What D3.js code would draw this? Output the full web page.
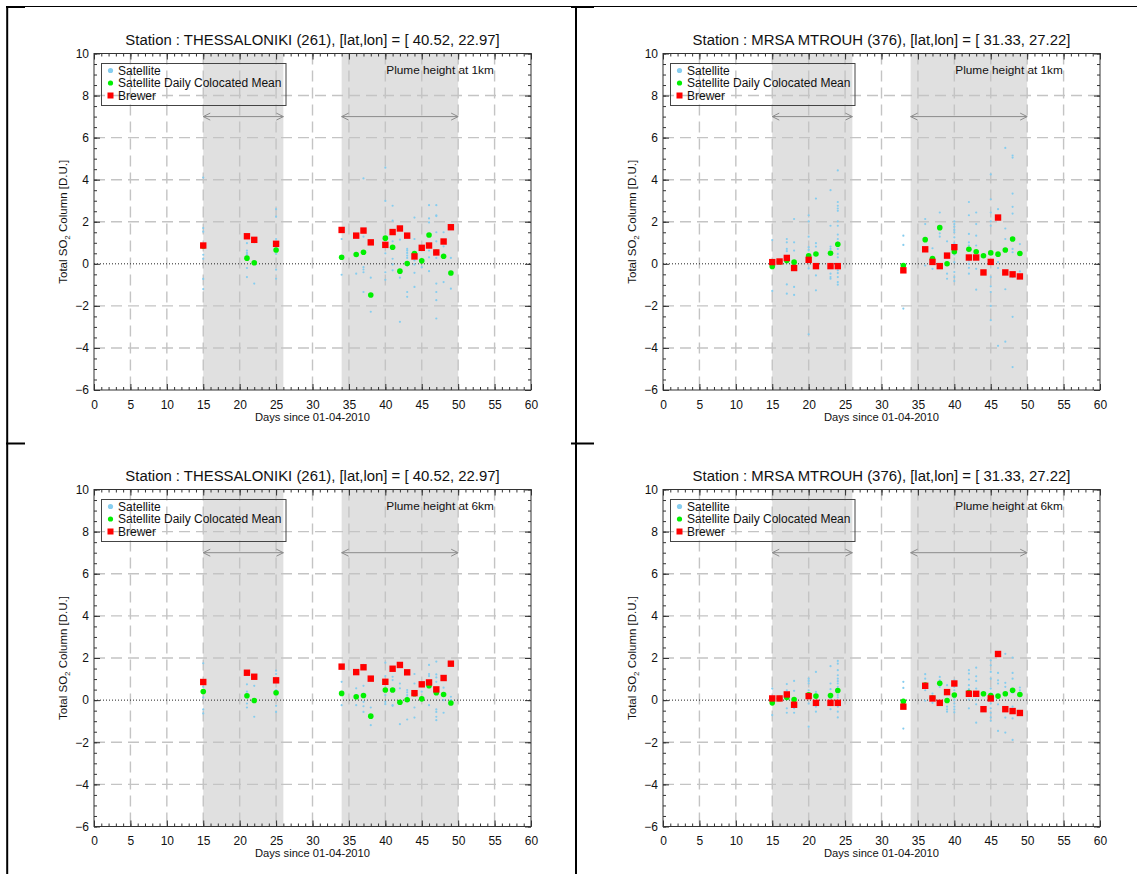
<!DOCTYPE html>
<html>
<head>
<meta charset="utf-8">
<script src="https://cdn.jsdelivr.net/npm/d3@7"></script>
<style>
  html, body { margin: 0; padding: 0; background: #fff; }
  svg { display: block; font-family: 'Liberation Sans', Arial, Helvetica, sans-serif; }
</style>
</head>
<body>
<svg id="fig" width="1137" height="874"></svg>
<script>
// ---- axis definitions ----
const dayTicks = d3.range(0, 61, 5);
const dayMinorTicks = d3.range(0, 61, 1);
const so2Ticks = d3.range(-6, 11, 2);
const so2MinorTicks = d3.range(-6, 10.01, 0.5);
const plumeSpans = [[15, 26], [34, 50]];
const arrowLevel = 7;
const legendLabels = ["Satellite", "Satellite Daily Colocated Mean", "Brewer"];

const titleThess = "Station : THESSALONIKI (261), [lat,lon] = [ 40.52, 22.97]";
const titleMtrouh = "Station : MRSA MTROUH (376), [lat,lon] = [ 31.33, 27.22]";
const plume1km = "Plume height at 1km";
const plume6km = "Plume height at 6km";
const xAxisTitle = "Days since 01-04-2010";

// ---- Thessaloniki, plume at 1 km ----
const thess1Brewer = [[15,0.87],[21,1.31],[22,1.14],[25,0.95],[34,1.61],[36,1.34],[37,1.58],[38,1.02],[40,0.90],[41,1.51],[42,1.68],[43,1.34],[44,0.35],[45,0.76],[46,0.87],[47,0.54],[48,1.06],[49,1.74]];
const thess1Mean = [[15,0.85],[21,0.27],[22,0.05],[25,0.66],[34,0.31],[36,0.44],[37,0.55],[38,-1.48],[40,1.22],[41,0.79],[42,-0.35],[43,0.01],[44,0.49],[45,0.14],[46,1.37],[47,0.55],[48,0.36],[49,-0.44]];
const thess1Sat = [
  [15,[4.1,1.70,1.53,0.43,0.24,-0.72,-1.2]],
  [21,[0.98,0.63,0.52,0.43,-0.2,-0.63]],
  [22,[1.02,-0.94]],
  [25,[2.6,2.24,1.18,1.05,0.47,-0.28,-0.71]],
  [34,[1.18,-0.52]],
  [36,[-0.47]],
  [37,[4.06,1.29,-0.16,-0.27,-0.4,-1.34]],
  [38,[-0.66,-2.28]],
  [40,[4.57,2.99,0.5,-0.4,-0.76]],
  [41,[2.76,2.05,1.07,0.24,-0.03,-0.31]],
  [42,[1.15,-0.66,-2.76]],
  [43,[0.71,0.63,0.52,0.39,0.28,-1.34,-1.57]],
  [44,[2.2,1.18,0.16,-0.03,-0.43,-1.1]],
  [45,[-0.16]],
  [46,[2.79,2.16,1.97,0.63,0.31,-0.35]],
  [47,[2.79,2.31,2.27,1.5,1.07,0.28,-0.94,-1.34,-1.73,-2.6]],
  [48,[1.5,0.83,-0.87]],
  [49,[0.28,-1.18]]
];

// ---- Mrsa Mtrouh, plume at 1 km ----
const mtrouh1Brewer = [[15,0.08],[16,0.11],[17,0.28],[18,-0.2],[20,0.19],[21,-0.11],[23,-0.11],[24,-0.11],[33,-0.31],[36,0.69],[37,0.09],[38,-0.11],[39,0.39],[40,0.79],[42,0.30],[43,0.30],[44,-0.41],[45,0.09],[46,2.2],[47,-0.41],[48,-0.5],[49,-0.6]];
const mtrouh1Mean = [[15,-0.13],[16,0.1],[17,0.16],[18,0.08],[20,0.38],[21,0.47],[23,0.5],[24,0.93],[33,-0.08],[36,1.15],[37,0.25],[38,1.72],[39,0.0],[40,0.57],[42,0.69],[43,0.57],[44,0.38],[45,0.52],[46,0.46],[47,0.66],[48,1.18],[49,0.49]];
const mtrouh1Sat = [
  [15,[1.13,-1.29]],
  [17,[1.18,1.02,0.71,0.6,-0.98,-1.42]],
  [18,[2.13,1.02,0.63,-1.1,-1.48]],
  [20,[2.31,2.02,1.29,0.79,0.66,0.08,-0.22,-3.35]],
  [21,[3.1,0.98,0.82,-0.55,-1.26]],
  [23,[3.5,1.81,0.82,0.71,-0.47,-0.63,-0.71]],
  [24,[4.44,2.94,2.76,2.63,2.52,2.02,1.81,1.39,1.18,1.02,0.87,0.71,0.47,0.31,-0.16,-0.31,-0.44,-0.63,-0.87,-0.99]],
  [33,[1.34,0.9,-2.13]],
  [36,[2.13,1.89,-0.08]],
  [37,[0.74,-0.24]],
  [38,[2.44,1.45,1.29]],
  [39,[1.07,-0.47,-0.71]],
  [40,[2.02,1.89,1.76,1.61,1.5,1.26,0.98,0.44,0.08,-0.39,-0.63,-0.82]],
  [42,[2.94,2.31,1.42,1.02,0.87,0.16,0.0,-0.19,-0.47]],
  [43,[2.44,1.89,1.34,0.87,-0.24,-1.23]],
  [45,[4.25,3.07,2.44,2.02,1.81,0.0,-0.63,-1.07,-1.34,-2.0,-2.68]],
  [46,[2.6,0.08,-0.2,-3.9]],
  [47,[5.51,1.68,1.18,-1.21,-3.7]],
  [48,[5.15,5.05,3.34,2.71,2.39,0.71,0.55,-0.63,-2.52,-4.91]],
  [49,[0.94,-0.36]]
];

// ---- Thessaloniki, plume at 6 km ----
const thess6Brewer = [[15,0.86],[21,1.30],[22,1.11],[25,0.94],[34,1.59],[36,1.33],[37,1.56],[38,1.02],[40,0.87],[41,1.49],[42,1.67],[43,1.32],[44,0.33],[45,0.75],[46,0.84],[47,0.51],[48,1.05],[49,1.73]];
const thess6Mean = [[15,0.41],[21,0.21],[22,-0.02],[25,0.35],[34,0.32],[36,0.16],[37,0.22],[38,-0.76],[40,0.48],[41,0.48],[42,-0.1],[43,0.02],[44,0.3],[45,0.06],[46,0.68],[47,0.35],[48,0.27],[49,-0.14]];
const thess6Sat = [
  [15,[1.75,0.63,0.13,-0.44,-0.63]],
  [21,[0.75,0.4,-0.16,-0.35]],
  [22,[0.68,-0.79]],
  [25,[1.4,1.24,0.48,-0.27,-0.56]],
  [34,[0.87,-0.24]],
  [36,[0.56,-0.24]],
  [37,[1.67,0.68,-0.08,-0.29,-0.56]],
  [38,[-0.35,-1.19]],
  [40,[1.78,1.14,0.24,-0.08,-0.19]],
  [41,[1.11,0.95,-0.24,-0.27]],
  [42,[0.79,0.56,-1.14]],
  [43,[0.48,0.37,0.24,0.13,-0.92]],
  [44,[1.24,0.79,-0.35,-0.83]],
  [45,[0.4]],
  [46,[1.67,1.24,1.14,-0.24]],
  [47,[1.83,1.22,1.08,0.87,0.51,-0.44,-0.56,-0.79,-0.95]],
  [48,[0.59,0.0,-0.6]],
  [49,[0.16,0.0]]
];

// ---- Mrsa Mtrouh, plume at 6 km ----
const mtrouh6Brewer = [[15,0.08],[16,0.08],[17,0.27],[18,-0.22],[20,0.19],[21,-0.13],[23,-0.13],[24,-0.13],[33,-0.31],[36,0.68],[37,0.08],[38,-0.13],[39,0.38],[40,0.79],[42,0.3],[43,0.3],[44,-0.43],[45,0.08],[46,2.19],[47,-0.43],[48,-0.52],[49,-0.61]];
const mtrouh6Mean = [[15,-0.13],[16,0.08],[17,0.13],[18,0.03],[20,0.25],[21,0.19],[23,0.22],[24,0.46],[33,-0.06],[36,0.72],[37,0.1],[38,0.8],[39,-0.02],[40,0.24],[42,0.36],[43,0.3],[44,0.3],[45,0.22],[46,0.19],[47,0.3],[48,0.47],[49,0.27]];
const mtrouh6Sat = [
  [15,[0.55,-0.71]],
  [17,[0.76,0.47,-0.39,-0.6]],
  [18,[0.91,0.44,-0.39,-0.6]],
  [20,[1.02,0.91,0.79,0.47,-0.16,-1.26]],
  [21,[1.34,0.39,-0.31,-0.55]],
  [23,[1.61,0.79,0.52,0.08,-0.24,-0.43]],
  [24,[1.86,1.73,1.42,1.18,1.02,0.9,0.79,0.63,0.24,0.13,-0.31,-0.55,-0.82]],
  [33,[0.87,0.58,-1.35]],
  [36,[1.23,1.02,0.47,-0.03]],
  [37,[0.31,-0.13]],
  [38,[1.1,0.94,0.63]],
  [39,[0.71,-0.31,-0.44,-0.55]],
  [40,[0.94,0.63,0.47,0.13,0,-0.16,-0.31,-0.44,-0.58]],
  [42,[1.42,1.26,0.98,0.71,0.52,0.03,-0.39]],
  [43,[1.54,1.13,0.91,0.55,0.03,-0.2,-1.07]],
  [45,[1.89,1.65,1.34,1.02,0.55,0.31,-0.16,-0.39,-0.6,-0.82,-0.98]],
  [46,[1.29,0.94,0.79,-0.2,-1.46]],
  [47,[2.2,0.82,0.63,-0.83,-1.54]],
  [48,[2.02,1.29,1.02,0.35,-0.31,-0.87,-1.89]],
  [49,[0.6,0.47,0.19]]
];

// ---- styling ----
const colSat = "#86CDEF";
const colMean = "#00F000";
const colBrewer = "#FF0000";
const colShade = "#E0E0E0";
const colGrid = "#C4C4C4";
const colArrow = "#8C8C8C";
const fontFam = "'Liberation Sans', Arial, Helvetica, sans-serif";

const svg = d3.select("#fig");

// page frame lines (table cell borders)
const frame = svg.append("g").attr("stroke", "#000").attr("fill", "none");
frame.append("line").attr("x1", 6).attr("x2", 1137).attr("y1", 6.5).attr("y2", 6.5).attr("stroke-width", 1);
[[6, 25], [571, 594]].forEach(([a, b]) => {
  frame.append("line").attr("x1", a).attr("x2", b).attr("y1", 7).attr("y2", 7).attr("stroke-width", 2);
  frame.append("line").attr("x1", a).attr("x2", b).attr("y1", 443.5).attr("y2", 443.5).attr("stroke-width", 2);
});
[7.2, 576].forEach(xv => {
  frame.append("line").attr("x1", xv).attr("x2", xv).attr("y1", 6).attr("y2", 874).attr("stroke-width", 2);
});

function drawPanel(box, title, plumeText, sat, mean, brewer) {
  const x = d3.scaleLinear().domain([0, 60]).range([box.x0, box.x1]);
  const y = d3.scaleLinear().domain([-6, 10]).range([box.y1, box.y0]);
  const g = svg.append("g");

  // shaded plume periods
  g.append("g").selectAll("rect").data(plumeSpans).join("rect")
    .attr("x", d => x(d[0])).attr("width", d => x(d[1]) - x(d[0]))
    .attr("y", y(10)).attr("height", y(-6) - y(10))
    .attr("fill", colShade);

  // dashed grid
  const grid = g.append("g").attr("stroke", colGrid).attr("stroke-width", 1.4)
    .attr("stroke-dasharray", "11,6");
  grid.selectAll(".gx").data(dayTicks.filter(d => d > 0 && d < 60)).join("line")
    .attr("x1", d => x(d)).attr("x2", d => x(d)).attr("y1", y(10)).attr("y2", y(-6));
  grid.selectAll(".gy").data(so2Ticks.filter(d => d > -6 && d < 10 && d !== 0)).join("line")
    .attr("y1", d => y(d)).attr("y2", d => y(d)).attr("x1", x(0)).attr("x2", x(60));

  // zero reference
  g.append("line").attr("x1", x(0)).attr("x2", x(60)).attr("y1", y(0)).attr("y2", y(0))
    .attr("stroke", "#222").attr("stroke-width", 1).attr("stroke-dasharray", "1,2");

  // double-headed arrows over plume periods
  const arr = g.append("g").attr("stroke", colArrow).attr("stroke-width", 1).attr("fill", "none");
  plumeSpans.forEach(([a, b]) => {
    const xa = x(a), xb = x(b), ya = y(arrowLevel);
    arr.append("line").attr("x1", xa).attr("x2", xb).attr("y1", ya).attr("y2", ya);
    arr.append("path").attr("d", `M${xa + 7},${ya - 3.5}L${xa},${ya}L${xa + 7},${ya + 3.5}`);
    arr.append("path").attr("d", `M${xb - 7},${ya - 3.5}L${xb},${ya}L${xb - 7},${ya + 3.5}`);
  });

  // plume height note
  g.append("text").attr("x", x(54.9)).attr("y", y(10) + 20.5).attr("text-anchor", "end")
    .attr("font-size", 11.8).attr("fill", "#111").text(plumeText);

  // legend
  const lg = g.append("g");
  const lx = box.x0 + 7.5, ly = box.y0 + 10;
  lg.append("rect").attr("x", lx).attr("y", ly).attr("width", 184.5).attr("height", 42)
    .attr("fill", "none").attr("stroke", "#444").attr("stroke-width", 1);
  const rowY = [7, 19.5, 32].map(v => ly + v);
  lg.append("circle").attr("cx", box.x0 + 16.5).attr("cy", rowY[0]).attr("r", 2.6).attr("fill", colSat);
  lg.append("circle").attr("cx", box.x0 + 16.5).attr("cy", rowY[1]).attr("r", 2.6).attr("fill", colMean);
  lg.append("rect").attr("x", box.x0 + 13.5).attr("y", rowY[2] - 3).attr("width", 6).attr("height", 6).attr("fill", colBrewer);
  lg.selectAll("text").data(legendLabels).join("text")
    .attr("x", box.x0 + 24).attr("y", (d, i) => rowY[i] + 4.3)
    .attr("font-size", 12).attr("fill", "#111").text(d => d);

  // axes with inward ticks
  const styleAxis = sel => {
    sel.attr("font-family", fontFam).attr("font-size", 12).attr("color", "#333");
    sel.select(".domain").remove();
    sel.selectAll("text").attr("fill", "#111");
  };
  g.append("g").attr("transform", `translate(0,${y(-6)})`)
    .call(d3.axisBottom(x).tickValues(dayTicks).tickSizeInner(-6).tickSizeOuter(0).tickPadding(10).tickFormat(d3.format("d")))
    .call(styleAxis);
  g.append("g").attr("transform", `translate(0,${y(-6)})`)
    .call(d3.axisBottom(x).tickValues(dayMinorTicks).tickSizeInner(-3).tickSizeOuter(0).tickFormat(""))
    .call(styleAxis);
  g.append("g").attr("transform", `translate(0,${y(10)})`)
    .call(d3.axisTop(x).tickValues(dayTicks).tickSizeInner(-6).tickSizeOuter(0).tickFormat(""))
    .call(styleAxis);
  g.append("g").attr("transform", `translate(0,${y(10)})`)
    .call(d3.axisTop(x).tickValues(dayMinorTicks).tickSizeInner(-3).tickSizeOuter(0).tickFormat(""))
    .call(styleAxis);
  g.append("g").attr("transform", `translate(${x(0)},0)`)
    .call(d3.axisLeft(y).tickValues(so2Ticks).tickSizeInner(-6).tickSizeOuter(0).tickPadding(5).tickFormat(d => d < 0 ? "\u2212" + Math.abs(d) : d))
    .call(styleAxis);
  g.append("g").attr("transform", `translate(${x(0)},0)`)
    .call(d3.axisLeft(y).tickValues(so2MinorTicks).tickSizeInner(-3).tickSizeOuter(0).tickFormat(""))
    .call(styleAxis);
  g.append("g").attr("transform", `translate(${x(60)},0)`)
    .call(d3.axisRight(y).tickValues(so2Ticks).tickSizeInner(-6).tickSizeOuter(0).tickFormat(""))
    .call(styleAxis);
  g.append("g").attr("transform", `translate(${x(60)},0)`)
    .call(d3.axisRight(y).tickValues(so2MinorTicks).tickSizeInner(-3).tickSizeOuter(0).tickFormat(""))
    .call(styleAxis);

  // plot frame
  g.append("rect").attr("x", x(0)).attr("y", y(10)).attr("width", x(60) - x(0)).attr("height", y(-6) - y(10))
    .attr("fill", "none").attr("stroke", "#333").attr("stroke-width", 1);

  // titles
  g.append("text").attr("x", (x(0) + x(60)) / 2).attr("y", y(10) - 8.5).attr("text-anchor", "middle")
    .attr("font-size", 14.9).attr("fill", "#111").text(title);
  g.append("text").attr("x", (x(0) + x(60)) / 2).attr("y", y(-6) + 30.5).attr("text-anchor", "middle")
    .attr("font-size", 11.2).attr("fill", "#111").text(xAxisTitle);
  const yl = g.append("text")
    .attr("transform", `translate(${x(0) - 27},${(y(10) + y(-6)) / 2}) rotate(-90)`)
    .attr("text-anchor", "middle").attr("font-size", 11.5).attr("fill", "#111");
  yl.append("tspan").text("Total SO");
  yl.append("tspan").attr("font-size", 8).attr("dy", 3).text("2");
  yl.append("tspan").attr("dy", -3).text(" Column [D.U.]");

  // satellite overpasses
  const satPts = sat.flatMap(([d, vals]) => vals.map(v => [d, v]));
  g.append("g").selectAll("circle").data(satPts).join("circle")
    .attr("cx", d => x(d[0])).attr("cy", d => y(d[1])).attr("r", 1.1).attr("fill", colSat);

  // daily colocated means
  g.append("g").selectAll("circle").data(mean).join("circle")
    .attr("cx", d => x(d[0])).attr("cy", d => y(d[1])).attr("r", 2.8).attr("fill", colMean);

  // Brewer ground measurements
  g.append("g").selectAll("rect").data(brewer).join("rect")
    .attr("x", d => x(d[0]) - 3.2).attr("y", d => y(d[1]) - 3.2)
    .attr("width", 6.4).attr("height", 6.4).attr("fill", colBrewer);
}

drawPanel({x0: 94, x1: 531, y0: 53.5, y1: 390}, titleThess, plume1km, thess1Sat, thess1Mean, thess1Brewer);
drawPanel({x0: 663, x1: 1100, y0: 53.5, y1: 390}, titleMtrouh, plume1km, mtrouh1Sat, mtrouh1Mean, mtrouh1Brewer);
drawPanel({x0: 94, x1: 531, y0: 489.5, y1: 826.5}, titleThess, plume6km, thess6Sat, thess6Mean, thess6Brewer);
drawPanel({x0: 663, x1: 1100, y0: 489.5, y1: 826.5}, titleMtrouh, plume6km, mtrouh6Sat, mtrouh6Mean, mtrouh6Brewer);
</script>
</body>
</html>
